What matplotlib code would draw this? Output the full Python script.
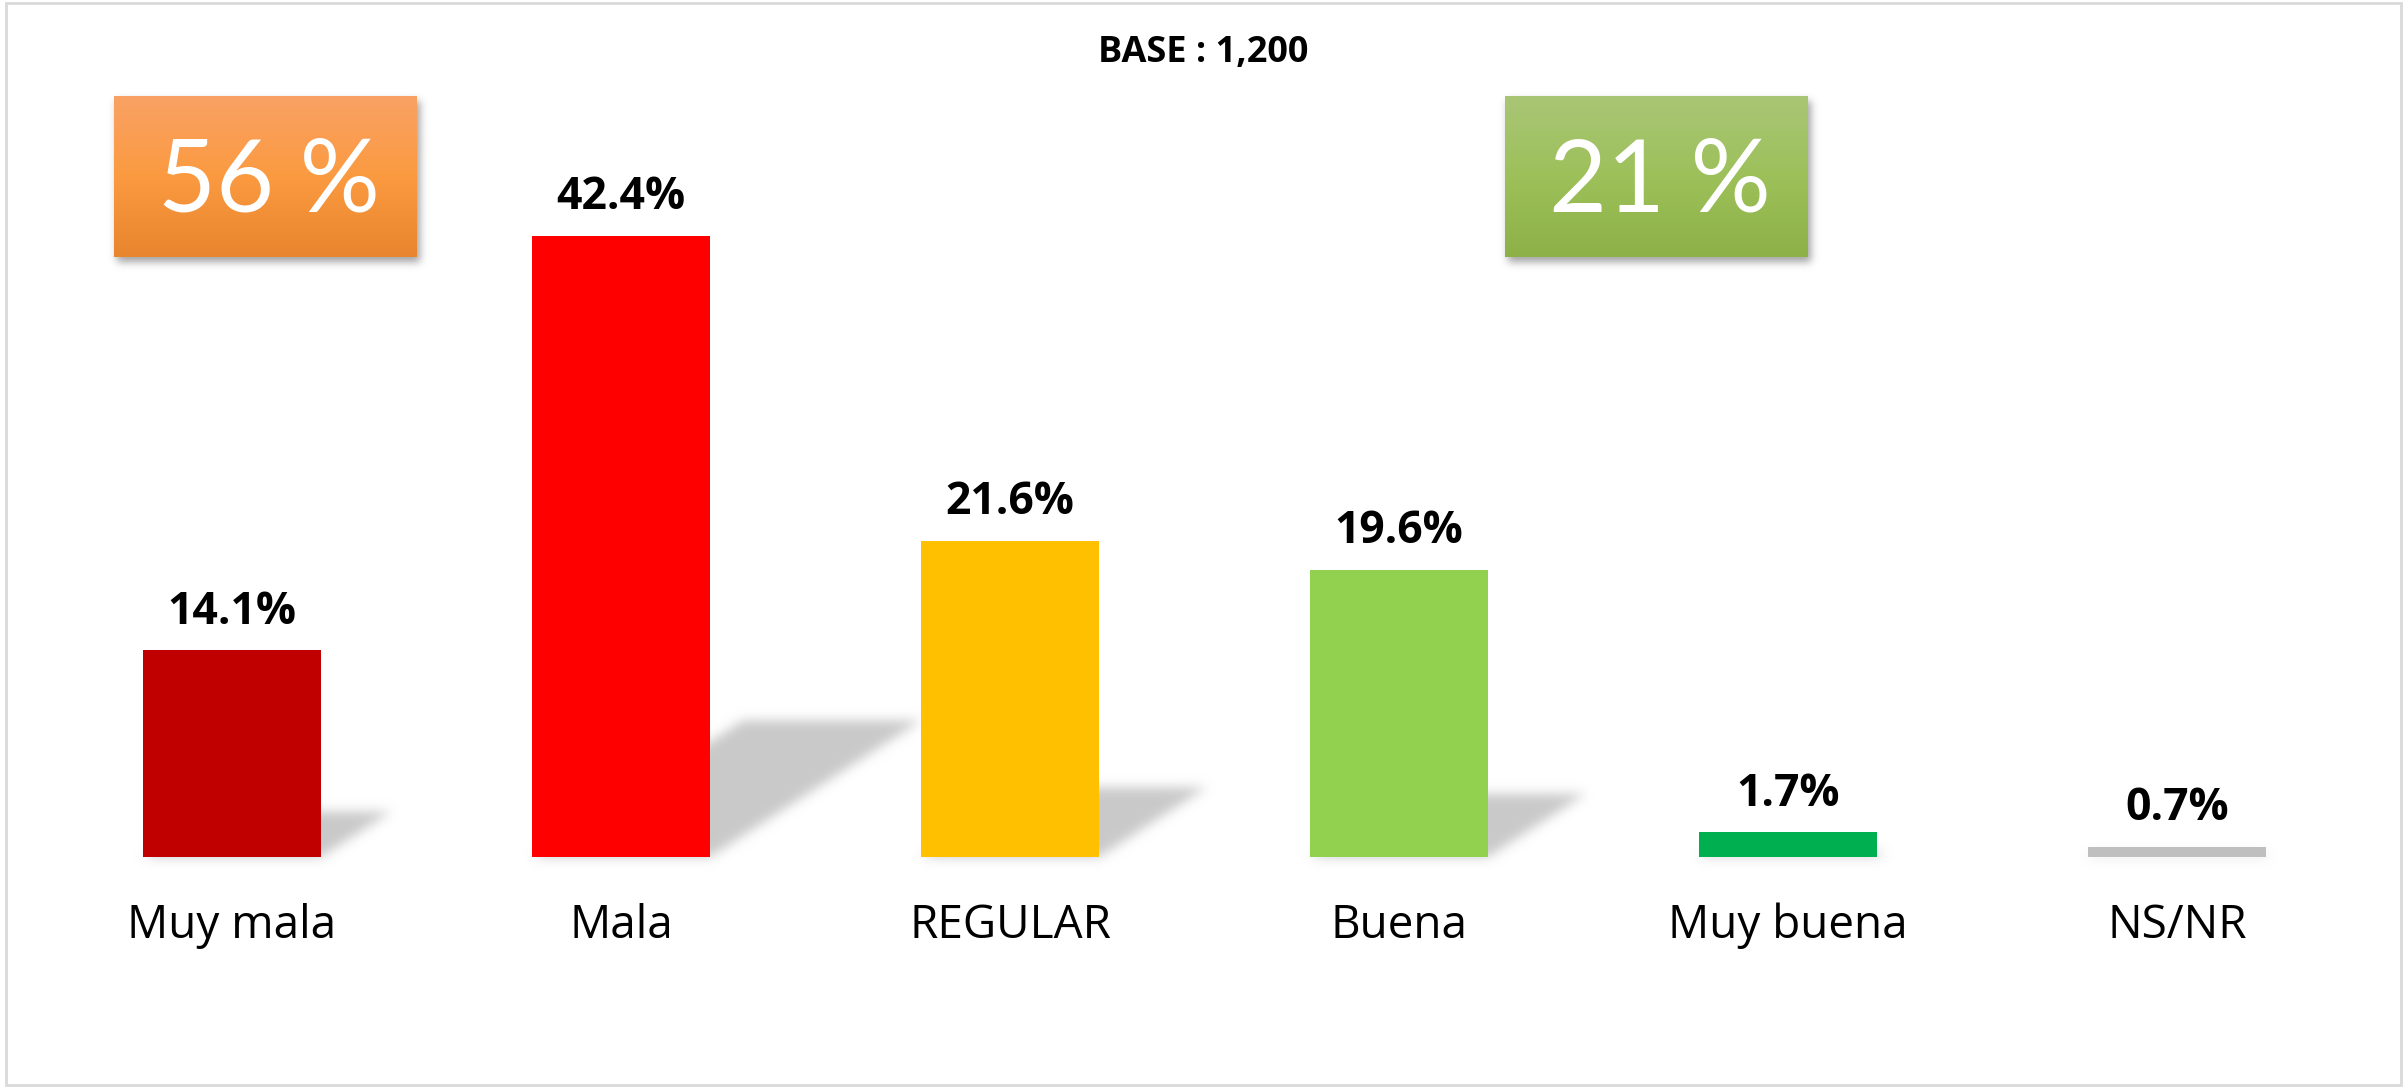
import numpy as np
import matplotlib
matplotlib.use('Agg')
import matplotlib.pyplot as plt
from matplotlib.collections import PolyCollection
from matplotlib.patches import Rectangle

# datos
categorias = ['Muy mala', 'Mala', 'REGULAR', 'Buena', 'Muy buena', 'NS/NR']
valores = [14.1, 42.4, 21.6, 19.6, 1.7, 0.7]
colores = ['#C00000', '#FF0000', '#FFC000', '#92D050', '#00B050', '#BFBFBF']
titulo = 'BASE : 1,200'
resumen_malo = '56 %'
resumen_bueno = '21 %'

plt.rcParams['font.family'] = ['Open Sans', 'DejaVu Sans']

W, H = 2407, 1087
fig = plt.figure(figsize=(W / 100, H / 100), dpi=100)
fig.patch.set_facecolor('white')


def blur_alpha(color, sigma, alpha=1.0):
    rgb = np.array(matplotlib.colors.to_rgb(color))

    def _f(img, dpi):
        r = int(3 * sigma)
        k = np.exp(-np.arange(-r, r + 1) ** 2 / (2.0 * sigma ** 2))
        k /= k.sum()
        a = np.pad(img[..., 3], r)
        tmp = np.zeros_like(a)
        for i, w in enumerate(k):
            tmp += w * np.roll(a, i - r, axis=0)
        out_a = np.zeros_like(a)
        for i, w in enumerate(k):
            out_a += w * np.roll(tmp, i - r, axis=1)
        out = np.empty(out_a.shape + (4,))
        out[..., :3] = rgb
        out[..., 3] = out_a * alpha
        return out, -r, -r
    return _f


# eje principal: base de las barras a 857 px, 14.65 px por punto
base_px = 857
px_por_pct = 14.65
paso_px = 389
x0_px = 232
ax = fig.add_axes([0, 1 - base_px / H, 1, base_px / H])
ax.set_xlim(-x0_px / paso_px, (W - x0_px) / paso_px)
ax.set_ylim(0, base_px / px_por_pct)
ax.axis('off')

x = np.arange(len(categorias))
ancho = 178 / paso_px

# sombras inclinadas
polys = []
for xi, v in zip(x, valores):
    dy = 0.22 * v
    dx = 0.34 * v * px_por_pct / paso_px
    polys.append([(xi - ancho / 2, 0), (xi + ancho / 2, 0),
                  (xi + ancho / 2 + dx, dy), (xi - ancho / 2 + dx, dy)])
sombras = PolyCollection(polys, facecolors='black', edgecolors='none', zorder=1)
sombras.set_agg_filter(blur_alpha('#c9c9c9', 4))
ax.add_collection(sombras)

ax.bar(x, valores, width=ancho, color=colores, zorder=3)

for xi, v, cat in zip(x, valores, categorias):
    ax.annotate(f'{v:.1f}%', (xi, v), xytext=(0, 19), textcoords='offset points',
                ha='center', va='baseline', fontsize=32, fontweight='bold',
                color='black', zorder=4)
    ax.text(xi, -(926 - base_px) / px_por_pct, cat,
            ha='center', va='center', fontsize=33, color='black', clip_on=False)

# titulo
fig.text(0.5, 1 - 53 / H, titulo, ha='center', va='center', fontsize=26,
         fontweight='bold', color='black')


# recuadros con degradado
def recuadro(x_px, texto, arriba, medio, abajo):
    y_top, y_bot = 96, 257
    w_px = 303
    l, b = x_px / W, 1 - y_bot / H
    w, h = w_px / W, (y_bot - y_top) / H
    sh = Rectangle((l + 3 / W, b - 5 / H), w, h, transform=fig.transFigure,
                   facecolor='black', edgecolor='none', zorder=1)
    sh.set_agg_filter(blur_alpha('#8a8a8a', 4, 0.8))
    fig.add_artist(sh)
    bx = fig.add_axes([l, b, w, h], zorder=3)
    cmap = matplotlib.colors.LinearSegmentedColormap.from_list('g', [arriba, medio, abajo])
    grad = np.linspace(0, 1, 256).reshape(-1, 1)
    bx.imshow(grad, cmap=cmap, aspect='auto', extent=(0, 1, 0, 1))
    bx.set_xlim(0, 1)
    bx.set_ylim(0, 1)
    bx.axis('off')
    bx.text(0.51, 0.46, texto, ha='center', va='center', fontsize=72,
            color='white', family=['Lato', 'DejaVu Sans'], fontweight='normal')


recuadro(114, resumen_malo, '#F9A265', '#FB9A40', '#E8852E')
recuadro(1505, resumen_bueno, '#A9C676', '#9DC05A', '#8DB147')

# marco gris
fig.add_artist(Rectangle((6 / W, 2 / H), (2401 - 6) / W, (H - 5) / H,
                         transform=fig.transFigure, fill=False,
                         edgecolor='#d9d9d9', linewidth=2, zorder=5))

fig.savefig('out.png', dpi=100)
